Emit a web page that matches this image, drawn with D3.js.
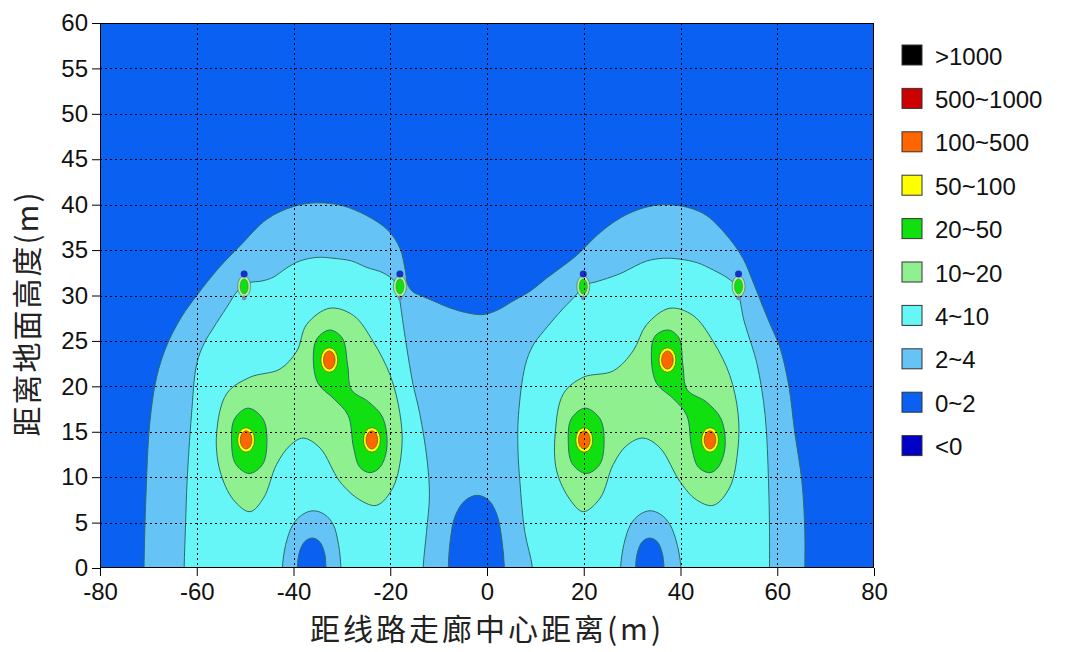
<!DOCTYPE html>
<html><head><meta charset="utf-8">
<script src="https://cdn.jsdelivr.net/npm/d3@7"></script>
<style>body{margin:0;background:#fff}svg{display:block}</style>
</head><body>
<svg id="chart" width="1065" height="652"></svg>
<script>
// ---------------- data ----------------
const xTicks = [-80, -60, -40, -20, 0, 20, 40, 60, 80];
const yTicks = [0, 5, 10, 15, 20, 25, 30, 35, 40, 45, 50, 55, 60];
const xGridLines = [-60, -40, -20, 0, 20, 40, 60];
const yGridLines = [5, 10, 15, 20, 25, 30, 35, 40, 45, 50, 55];
const levels = [">1000", "500~1000", "100~500", "50~100", "20~50", "10~20", "4~10", "2~4", "0~2", "<0"];
const xTitle = "距线路走廊中心距离(m)";
const yTitle = "距离地面高度(m)";

// contour boundaries [x (m), height (m)]
const band2to4Main = [[-70.9,-3],[-70.9,0],[-70.5,8],[-69.7,16],[-68.3,21],[-66.2,24.5],[-63.2,27.6],[-60,30],[-55.5,33],[-51,35.5],[-45.5,38.4],[-40,39.8],[-35.2,40.2],[-30,39.9],[-24.9,38.8],[-20.5,37.2],[-18,35.2],[-16.9,32.8],[-16.4,31.2],[-15.3,30.4],[-13.3,29.9],[-11.1,29.4],[-7.5,28.6],[-4.2,28.1],[-0.8,27.9],[2.2,28.4],[5.4,29.4],[9,30.5],[12.3,31.9],[15.6,33.2],[18.5,34.4],[22.7,36.6],[26,38],[29.6,39.1],[33.5,39.8],[37.1,40.0],[41.5,39.7],[45.4,38.8],[50.2,36.2],[53,34],[55,31.5],[57,28.8],[58.8,26.5],[60.6,24.2],[62.4,20],[63.6,15],[65.1,9.5],[65.7,4],[65.7,0],[65.7,-3]];
const band4to10Left = [[-62.6,-3],[-62.6,0],[-62.3,5],[-62,9.5],[-61.1,16.8],[-60,22.5],[-58.4,24.8],[-56.6,26.4],[-53.8,28.7],[-51.4,30.6],[-49.2,31.4],[-46.5,31.6],[-44.2,32],[-41.5,33],[-38.7,33.8],[-35,34.2],[-31.8,34.1],[-28,33.8],[-24.9,33.1],[-21.5,32.5],[-19,31.5],[-18.2,30],[-17.5,27.5],[-16.6,24.3],[-15.4,20.5],[-13.9,17],[-12.4,12],[-11.9,8],[-12.5,4],[-13.2,0],[-13.2,-3]];
const band4to10Right = [[9.4,-3],[9.4,0],[7.8,4],[6.8,9.5],[6.4,13],[6.5,16.8],[7.9,22.3],[9.5,24.5],[11.6,26],[15.8,28.6],[18.5,30.1],[19.4,30.8],[21,31.3],[22.5,31.5],[27.5,32.4],[30.5,33.2],[33,33.8],[36.5,34.1],[39.9,34.0],[43.5,33.6],[46.8,32.8],[49.8,31.9],[51.6,31],[52.3,29.5],[53,27.5],[53.7,26.2],[55.8,22.5],[57.5,16.8],[58.2,9.5],[58.4,4],[58.4,0],[58.4,-3]];
const band2to4ArchLeft = [[-42.3,-3],[-42.3,0],[-41.6,2.6],[-40.1,4.8],[-38.1,5.9],[-35.9,6.3],[-33.6,5.9],[-31.8,4.8],[-30.7,2.6],[-30.2,0],[-30.2,-3]];
const band2to4ArchRight = [[27.6,-3],[27.6,0],[28.3,2.6],[29.7,4.8],[31.6,5.9],[33.7,6.3],[35.9,5.9],[37.8,4.8],[39.3,2.6],[40.1,0],[40.1,-3]];
const band0to2HoleLeft = [[-39.2,-3],[-39.2,0],[-38.8,1.7],[-37.7,2.9],[-36.1,3.3],[-34.6,2.9],[-33.6,1.7],[-33.3,0],[-33.3,-3]];
const band0to2HoleCenter = [[-8,-3],[-8,0],[-7.6,3],[-6.6,5.7],[-4.6,7.4],[-2.1,8.0],[0.3,7.5],[2.1,5.8],[3.1,3],[3.6,0],[3.6,-3]];
const band0to2HoleRight = [[30.7,-3],[30.7,0],[31.1,1.7],[32.1,2.9],[33.6,3.3],[35.2,2.9],[36.2,1.7],[36.6,0],[36.6,-3]];
const band10to20Left = [[-55.9,14.8],[-53.8,19.2],[-49,21.0],[-42.8,21.9],[-39.3,23.9],[-37.3,26.8],[-32.5,28.6],[-27.6,27.8],[-23.5,24.9],[-20,21.2],[-18,17],[-17.6,13.3],[-19.4,8.9],[-22.8,6.9],[-26.3,7.5],[-30.4,9.5],[-34.5,13.2],[-38,14.3],[-40.7,13.5],[-43.5,11.4],[-46.2,7.7],[-49,6.2],[-52.4,7.5],[-55.2,10.7]];
const band10to20Right = [[14.1,14.8],[15.8,19.2],[19.9,21.0],[26.1,21.7],[30.2,23.9],[33,26.8],[37.8,28.6],[42.6,27.8],[46.8,24.9],[50.2,21.2],[51.9,17],[51.9,13.3],[50.2,8.9],[46.8,6.9],[43.3,7.5],[39.9,9.5],[35.8,13.2],[32.3,14.3],[28.9,13.5],[26.1,11.4],[23.4,7.7],[19.9,6.2],[17.2,7.5],[14.4,10.7]];
const band20to50LeftA = [[-52.8,14],[-52.2,16.4],[-49.4,17.6],[-46.3,16.4],[-45.5,13.8],[-46.4,11.4],[-49.2,10.4],[-52.0,11.5]];
const band20to50LeftB = [[-32.5,26.2],[-29.9,25.3],[-28.8,22.3],[-28,19.6],[-24.5,18.3],[-21.6,16.6],[-20.7,13.3],[-22.1,11.1],[-24.2,10.5],[-26.3,11.1],[-27.6,13.3],[-28.7,16.8],[-31.6,18.6],[-34.9,20.3],[-35.9,22.9],[-35.2,25.2]];
const band20to50RightA = [[16.8,14],[17.4,16.4],[20.3,17.6],[23.4,16.4],[24.2,13.8],[23.3,11.4],[20.5,10.4],[17.6,11.5]];
const band20to50RightB = [[37.5,26.2],[39.7,25.3],[40.5,22.3],[41.4,19.6],[45.3,18.3],[48.4,16.4],[49.2,13.3],[47.8,11.1],[46.1,10.5],[43.7,11.1],[42.3,13.3],[41.3,16.8],[38.6,18.6],[35.1,20.3],[34,22.9],[34.7,25.5]];
const conductors = [[-49.8,14.1],[-32.6,22.9],[-23.8,14.1],[20.1,14.1],[37.3,22.9],[46.1,14.1]];
const groundWires = [[-50.2,31],[-18,31],[19.9,31],[52,31]];

// ---------------- style ----------------
const colors = ["#000000","#cc0000","#ff6600","#ffff00","#10e010","#8ef08e","#66f6f8","#66c3f6","#0a60f0","#0000c8"];
const color = d3.scaleOrdinal(levels, colors);
const lineColor = "#2d6a6a";

const bands = [
  {level:"2~4", pts:band2to4Main},
  {level:"4~10", pts:band4to10Left},
  {level:"4~10", pts:band4to10Right},
  {level:"2~4", pts:band2to4ArchLeft},
  {level:"2~4", pts:band2to4ArchRight},
  {level:"0~2", pts:band0to2HoleLeft},
  {level:"0~2", pts:band0to2HoleCenter},
  {level:"0~2", pts:band0to2HoleRight},
  {level:"10~20", pts:band10to20Left},
  {level:"10~20", pts:band10to20Right},
  {level:"20~50", pts:band20to50LeftA},
  {level:"20~50", pts:band20to50LeftB},
  {level:"20~50", pts:band20to50RightA},
  {level:"20~50", pts:band20to50RightB}
];

const m = {left:100, right:874, top:23, bottom:568};
const svg = d3.select("#chart");
const x = d3.scaleLinear([-80, 80], [m.left, m.right]);
const y = d3.scaleLinear([0, 60], [m.bottom, m.top]);

svg.append("defs").append("clipPath").attr("id","plotclip")
  .append("rect").attr("x",m.left).attr("y",m.top).attr("width",m.right-m.left).attr("height",m.bottom-m.top);

const plot = svg.append("g").attr("clip-path","url(#plotclip)");
plot.append("rect").attr("x",m.left).attr("y",m.top).attr("width",m.right-m.left).attr("height",m.bottom-m.top)
  .attr("fill", color("0~2"));

const line = d3.line().x(d=>x(d[0])).y(d=>y(d[1])).curve(d3.curveCatmullRomClosed.alpha(0.5));
plot.selectAll("path.band").data(bands).join("path").attr("class","band")
  .attr("d", d=>line(d.pts)).attr("fill", d=>color(d.level))
  .attr("stroke", lineColor).attr("stroke-width", 1);

// conductor rings
const ring = (lvl, rx, ry) => plot.append("g").selectAll("ellipse").data(conductors).join("ellipse")
  .attr("cx", d=>x(d[0])).attr("cy", d=>y(d[1]))
  .attr("rx", d=>x(d[0]+rx)-x(d[0])).attr("ry", d=>y(d[1])-y(d[1]+ry))
  .attr("fill", color(lvl)).attr("stroke", "#556b2f").attr("stroke-width", 0.8);
ring("50~100", 1.75, 1.35);
ring("100~500", 1.2, 1.0);

// ground wires
const gw = plot.append("g").selectAll("g").data(groundWires).join("g")
  .attr("transform", d=>`translate(${x(d[0])},${y(d[1])})`);
gw.append("ellipse").attr("rx",6.5).attr("ry",10.5).attr("fill","#b6ee9a").attr("stroke",lineColor).attr("stroke-width",0.6);
gw.append("ellipse").attr("rx",4).attr("ry",7.5).attr("fill",color("20~50")).attr("stroke","#3a8a3a").attr("stroke-width",0.6);
gw.append("circle").attr("cy",-12.5).attr("r",3.5).attr("fill","#1530c8");
gw.append("circle").attr("cy",11.5).attr("r",2.3).attr("fill","#6a8fb8");

// grid
const grid = svg.append("g").attr("stroke","#000").attr("stroke-width",1).attr("stroke-dasharray","2,3");
grid.selectAll("line.vx").data(xGridLines).join("line").attr("class","vx")
  .attr("x1",d=>Math.round(x(d))+0.5).attr("x2",d=>Math.round(x(d))+0.5).attr("y1",m.top).attr("y2",m.bottom);
grid.selectAll("line.hy").data(yGridLines).join("line").attr("class","hy")
  .attr("y1",d=>Math.round(y(d))+0.5).attr("y2",d=>Math.round(y(d))+0.5).attr("x1",m.left).attr("x2",m.right);

// frame
svg.append("rect").attr("x",m.left+0.5).attr("y",m.top+0.5).attr("width",m.right-m.left-1).attr("height",m.bottom-m.top-1)
  .attr("fill","none").attr("stroke","#000").attr("stroke-width",1);

// axes
const tickFont = "'Liberation Sans', Arial, sans-serif";
const xa = svg.append("g").attr("transform",`translate(0,${m.bottom})`)
  .call(d3.axisBottom(x).tickValues(xTicks).tickSize(8).tickPadding(7).tickFormat(d3.format("d")));
const ya = svg.append("g").attr("transform",`translate(${m.left},0)`)
  .call(d3.axisLeft(y).tickValues(yTicks).tickSize(8).tickPadding(4).tickFormat(d3.format("d")));
[xa, ya].forEach(a => {
  a.select(".domain").remove();
  a.selectAll("line").attr("stroke","#000");
  a.selectAll("text").attr("font-family",tickFont).attr("font-size",24).attr("fill","#111");
});
xa.selectAll("text").text(d => d < 0 ? "-" + Math.abs(d) : d);

// titles
svg.append("text").attr("x",(m.left+m.right)/2).attr("y",640).attr("text-anchor","middle")
  .attr("font-family","'Noto Sans CJK SC', sans-serif").attr("font-size",30).attr("letter-spacing",3)
  .attr("fill","#222").text(xTitle);
svg.append("text").attr("transform",`translate(38,${(m.top+m.bottom)/2 + 18}) rotate(-90)`).attr("text-anchor","middle")
  .attr("font-family","'Noto Sans CJK SC', sans-serif").attr("font-size",30).attr("letter-spacing",2)
  .attr("fill","#222").text(yTitle);

// legend
const lg = svg.append("g").selectAll("g").data(levels).join("g")
  .attr("transform",(d,i)=>`translate(902,${45 + i*43.4})`);
lg.append("rect").attr("width",20).attr("height",20).attr("fill",d=>color(d)).attr("stroke","#333").attr("stroke-width",1);
lg.append("text").attr("x",33).attr("y",11).attr("dominant-baseline","central")
  .attr("font-family",tickFont).attr("font-size",24).attr("fill","#111").text(d=>d);
</script>
</body></html>
